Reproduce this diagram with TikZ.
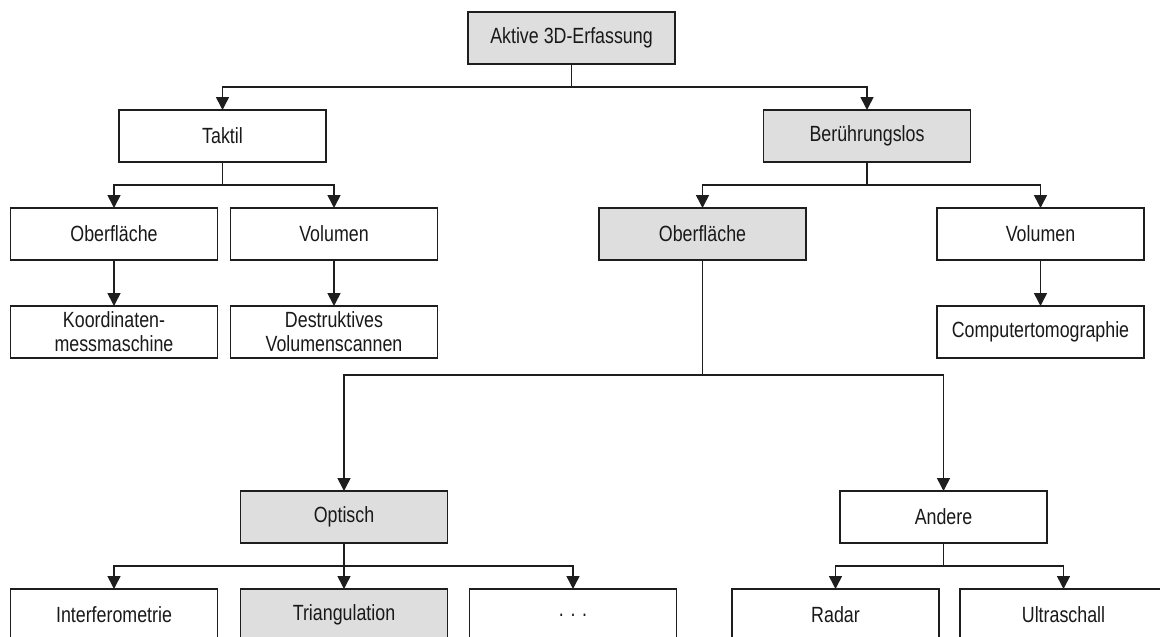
\documentclass[tikz,border=0pt]{standalone}
\usepackage{fontspec}
\setmainfont{Liberation Sans}[FakeStretch=0.81]
\usepackage{xcolor}
\usepackage{tikz}
\usetikzlibrary{arrows.meta, positioning}

\definecolor{boxgrey}{RGB}{222,222,222}
\definecolor{linedark}{RGB}{30,30,30}

\begin{document}
\begin{tikzpicture}[
        x=1pt, y=-1pt,
        % Police pour tous les nœuds
        every node/.style = {font=\fontsize{22}{24}\selectfont},
        % Style des blocs standards
        block/.style = {
            rectangle,
            draw=linedark,
            line width=1.4pt,
            fill=white,
            text=black!90,
            minimum width=207pt,
            minimum height=52pt,
            inner sep=0pt,
            outer sep=0pt,
            align=center
        },
        % Blocs mis en évidence (gris)
        greyblock/.style = {block, fill=boxgrey},
        % Style des flèches
        arrow/.style = {
            -{Triangle[width=13pt, length=13pt]},
            line width=1.6pt,
            draw=linedark
        }
    ]

        \useasboundingbox (0,0) rectangle (1160,637);

        % 1. Placement des nœuds
        \node (root)    [greyblock] at (571.5,38) {Aktive 3D-Erfassung};
        \node (taktil)  [block] at (222.5,136) {Taktil};
        \node (beruehr) [greyblock] at (867,136) {Berührungslos};

        \node (tobf)    [block] at (114,234) {Oberfläche};
        \node (tvol)    [block, right=13pt of tobf] {Volumen};
        \node (bobf)    [greyblock] at (702.5,234) {Oberfläche};
        \node (bvol)    [block] at (1040.5,234) {Volumen};

        \node (koord)   [block, below=46pt of tobf] {Koordinaten-\\messmaschine};
        \node (destr)   [block, below=46pt of tvol] {Destruktives\\Volumenscannen};
        \node (ct)      [block, below=46pt of bvol] {Computertomographie};

        \node (optisch) [greyblock] at (344,517) {Optisch};
        \node (andere)  [block] at (943.5,517) {Andere};

        \node (interf)  [block] at (114,615) {Interferometrie};
        \node (triang)  [greyblock, right=23pt of interf] {Triangulation};
        \node (dots)    [block, right=22pt of triang] {. . .};
        \node (radar)   [block] at (835.5,615) {Radar};
        \node (ultra)   [block, right=21pt of radar] {Ultraschall};

        % 2. Tracé des flèches
        \draw [arrow] (root.south) -- ++(0,23) -| (taktil.north);
        \draw [arrow] (root.south) -- ++(0,23) -| (beruehr.north);

        \draw [arrow] (taktil.south) -- ++(0,23) -| (tobf.north);
        \draw [arrow] (taktil.south) -- ++(0,23) -| (tvol.north);
        \draw [arrow] (beruehr.south) -- ++(0,23) -| (bobf.north);
        \draw [arrow] (beruehr.south) -- ++(0,23) -| (bvol.north);

        \draw [arrow] (tobf) -- (koord);
        \draw [arrow] (tvol) -- (destr);
        \draw [arrow] (bvol) -- (ct);

        \draw [arrow] (bobf.south) -- ++(0,115) -| (optisch.north);
        \draw [arrow] (bobf.south) -- ++(0,115) -| (andere.north);

        \draw [arrow] (optisch.south) -- ++(0,23) -| (interf.north);
        \draw [arrow] (optisch) -- (triang);
        \draw [arrow] (optisch.south) -- ++(0,23) -| (dots.north);
        \draw [arrow] (andere.south) -- ++(0,23) -| (radar.north);
        \draw [arrow] (andere.south) -- ++(0,23) -| (ultra.north);

    \end{tikzpicture}
\end{document}
